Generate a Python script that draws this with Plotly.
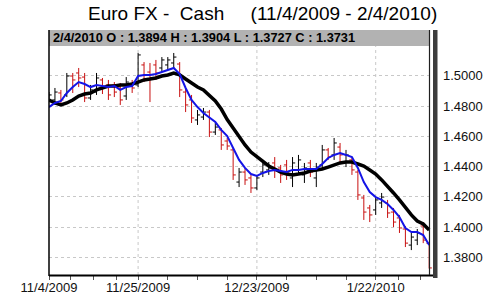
import plotly.graph_objects as go

# ---- data ----
bar_index = list(range(65))
opens = [1.4840,1.4840,1.4886,1.4873,1.4998,1.5018,1.4991,1.4853,1.4892,1.4972,
         1.4939,1.4939,1.4919,1.4866,1.4939,1.4939,1.5071,1.5024,1.5071,1.5051,
         1.5071,1.5084,1.5077,1.4892,1.4840,1.4708,1.4727,1.4760,1.4628,1.4642,
         1.4569,1.4510,1.4298,1.4364,1.4325,1.4259,1.4364,1.4378,1.4424,1.4391,
         1.4411,1.4325,1.4378,1.4345,1.4424,1.4325,1.4411,1.4510,1.4477,1.4529,
         1.4430,1.4444,1.4364,1.4193,1.4127,1.4114,1.4160,1.4160,1.4100,1.4061,
         1.3988,1.3882,1.3915,1.4008,1.3894]
highs = [1.4892,1.4919,1.4906,1.5018,1.5018,1.5051,1.5018,1.4939,1.5018,1.4985,
         1.4972,1.4958,1.4952,1.4991,1.4972,1.5150,1.5090,1.5084,1.5104,1.5123,
         1.5123,1.5150,1.5090,1.4919,1.4873,1.4774,1.4787,1.4774,1.4688,1.4655,
         1.4589,1.4523,1.4391,1.4391,1.4345,1.4345,1.4444,1.4430,1.4463,1.4411,
         1.4444,1.4463,1.4477,1.4424,1.4444,1.4424,1.4543,1.4523,1.4589,1.4556,
         1.4510,1.4457,1.4378,1.4213,1.4147,1.4199,1.4226,1.4180,1.4127,1.4081,
         1.4008,1.3962,1.3988,1.4034,1.3904]
lows = [1.4826,1.4807,1.4820,1.4859,1.4886,1.4925,1.4826,1.4840,1.4873,1.4879,
        1.4840,1.4859,1.4807,1.4840,1.4886,1.4925,1.4958,1.4826,1.4972,1.5024,
        1.5038,1.5051,1.4859,1.4760,1.4688,1.4675,1.4708,1.4595,1.4609,1.4510,
        1.4510,1.4312,1.4265,1.4279,1.4226,1.4246,1.4331,1.4345,1.4325,1.4292,
        1.4312,1.4265,1.4345,1.4292,1.4331,1.4265,1.4378,1.4444,1.4444,1.4424,
        1.4397,1.4345,1.4180,1.4048,1.4034,1.4081,1.4127,1.4061,1.4001,1.3962,
        1.3869,1.3849,1.3882,1.3895,1.3727]
closes = [1.4873,1.4892,1.4840,1.4998,1.4972,1.4985,1.4853,1.4906,1.4985,1.4919,
          1.4873,1.4892,1.4840,1.4958,1.4919,1.5137,1.5005,1.4985,1.5018,1.5104,
          1.5104,1.5123,1.4906,1.4807,1.4721,1.4741,1.4760,1.4628,1.4661,1.4543,
          1.4536,1.4345,1.4364,1.4312,1.4259,1.4325,1.4411,1.4391,1.4378,1.4345,
          1.4364,1.4424,1.4444,1.4391,1.4364,1.4397,1.4510,1.4463,1.4556,1.4477,
          1.4477,1.4378,1.4213,1.4100,1.4081,1.4180,1.4199,1.4094,1.4034,1.3995,
          1.3895,1.3935,1.3962,1.3915,1.3731]
fast_ma = [1.4793,1.4820,1.4833,1.4886,1.4925,1.4958,1.4945,1.4925,1.4939,1.4932,
           1.4925,1.4932,1.4906,1.4925,1.4932,1.4998,1.5005,1.5005,1.5011,1.5024,
           1.5038,1.5051,1.5011,1.4919,1.4840,1.4793,1.4754,1.4727,1.4694,1.4642,
           1.4602,1.4523,1.4444,1.4391,1.4351,1.4338,1.4358,1.4371,1.4378,1.4371,
           1.4364,1.4378,1.4378,1.4384,1.4384,1.4384,1.4417,1.4457,1.4477,1.4490,
           1.4477,1.4463,1.4391,1.4298,1.4232,1.4199,1.4180,1.4153,1.4114,1.4067,
           1.3995,1.3968,1.3968,1.3948,1.3882]
slow_ma = [1.4840,1.4820,1.4807,1.4820,1.4840,1.4866,1.4879,1.4886,1.4906,1.4919,
           1.4932,1.4932,1.4939,1.4939,1.4945,1.4958,1.4972,1.4978,1.4985,1.4998,
           1.5005,1.5018,1.5005,1.4978,1.4952,1.4925,1.4906,1.4873,1.4833,1.4780,
           1.4710,1.4655,1.4595,1.4543,1.4496,1.4463,1.4430,1.4404,1.4384,1.4364,
           1.4351,1.4345,1.4351,1.4358,1.4371,1.4378,1.4384,1.4397,1.4411,1.4424,
           1.4430,1.4430,1.4417,1.4404,1.4378,1.4351,1.4312,1.4272,1.4226,1.4180,
           1.4127,1.4081,1.4041,1.4021,1.3982]
x_label_pos = [0, 15, 35, 55]
x_labels = ["11/4/2009", "11/25/2009", "12/23/2009", "1/22/2010"]
x_minor_pos = [3.7, 7.5, 11.3, 20, 25, 30, 40, 45, 50, 58.9, 62.6]
y_ticks = [1.38, 1.40, 1.42, 1.44, 1.46, 1.48, 1.50]
title_text = "Euro FX -\u00a0 Cash\u00a0\u00a0\u00a0\u00a0\u00a0(11/4/2009 - 2/4/2010)"
info_text = "2/4/2010 O : 1.3894 H : 1.3904 L : 1.3727 C : 1.3731"

# ---- layout geometry (pixels) ----
W, H = 484, 295
L, R, T, B = 49, 433, 30, 275
STEP = 5.94  # pixels per bar

def px(xp):
    return (xp - L) / (R - L)

def py(yp):
    return (B - yp) / (B - T)

fig = go.Figure()
fig.add_trace(go.Ohlc(
    x=bar_index, open=opens, high=highs, low=lows, close=closes,
    increasing=dict(line=dict(color="#000000", width=1)),
    decreasing=dict(line=dict(color="#c81010", width=1)),
    tickwidth=0.45, hoverinfo="skip", showlegend=False))
fig.add_trace(go.Scatter(x=bar_index, y=slow_ma, mode="lines",
                         line=dict(color="#000000", width=3.5), showlegend=False, hoverinfo="skip"))
fig.add_trace(go.Scatter(x=bar_index, y=fast_ma, mode="lines",
                         line=dict(color="#1414e6", width=2), showlegend=False, hoverinfo="skip"))

tickvals = x_label_pos + x_minor_pos
ticktext = x_labels + [""] * len(x_minor_pos)

ymin = 1.5 - (B - 75.7) * 0.02 / 30.3
ymax = 1.5 + (75.7 - T) * 0.02 / 30.3

fig.update_layout(
    width=W, height=H,
    margin=dict(l=L, r=W - R, t=T, b=H - B, pad=0, autoexpand=False),
    paper_bgcolor="white", plot_bgcolor="white",
    font=dict(family="Liberation Sans, Arial, sans-serif", size=13, color="#111111"),
    showlegend=False,
    xaxis=dict(range=[0, (R - L) / STEP], tickvals=tickvals, ticktext=ticktext,
               ticks="outside", ticklen=4, tickcolor="#555555", tickwidth=1,
               ticklabelstandoff=-4,
               showgrid=False, zeroline=False, showline=False, automargin=False,
               rangeslider=dict(visible=False), fixedrange=True,
               tickfont=dict(size=13)),
    yaxis=dict(range=[ymin, ymax], side="right", tickvals=y_ticks, tickformat=".4f",
               showgrid=True, gridcolor="#c8c8c8", griddash="dot", gridwidth=1,
               zeroline=False, showline=False, ticks="", ticklabelstandoff=9,
               automargin=False, fixedrange=True, tickfont=dict(size=13)),
)

shapes = []
# vertical dotted grid at labelled dates
for v in x_label_pos[1:]:
    shapes.append(dict(type="line", xref="x", yref="paper", x0=v, x1=v, y0=0, y1=1,
                       line=dict(color="#c8c8c8", width=1, dash="dot"), layer="below"))
# info bar
shapes.append(dict(type="rect", xref="paper", yref="paper", x0=0, x1=px(430), y0=py(46), y1=1,
                   fillcolor="#b2b2b2", line=dict(width=0), layer="above"))
# borders
shapes.append(dict(type="line", xref="paper", yref="paper", x0=0, x1=0, y0=py(276), y1=1,
                   line=dict(color="#000000", width=1.5), layer="above"))
shapes.append(dict(type="line", xref="paper", yref="paper", x0=0, x1=px(437), y0=py(275.5), y1=py(275.5),
                   line=dict(color="#000000", width=2), layer="above"))
shapes.append(dict(type="line", xref="paper", yref="paper", x0=px(429.5), x1=px(429.5), y0=py(275), y1=1,
                   line=dict(color="#202020", width=1.2), layer="above"))
shapes.append(dict(type="rect", xref="paper", yref="paper", x0=px(433), x1=px(437.5), y0=py(278), y1=1,
                   fillcolor="#3c3c3c", line=dict(width=0), layer="above"))
fig.update_layout(shapes=shapes)

fig.add_annotation(xref="paper", yref="paper", x=px(51), y=py(38), xanchor="left", yanchor="middle",
                   text="<b>" + info_text + "</b>", showarrow=False,
                   font=dict(size=12.8, color="#000000", family="Liberation Sans, Arial, sans-serif"))
fig.add_annotation(xref="paper", yref="paper", x=px(262), y=py(13), xanchor="center", yanchor="middle",
                   text=title_text, showarrow=False,
                   font=dict(size=19, color="#000000", family="Liberation Sans, Arial, sans-serif"))

fig.write_html("out.html", config={"displayModeBar": False})
